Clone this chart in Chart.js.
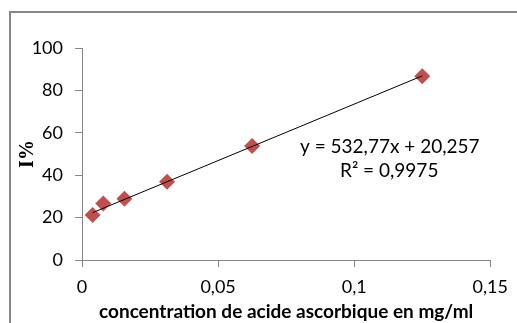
<!DOCTYPE html>
<html>
<head>
<meta charset="utf-8">
<script src="https://cdn.jsdelivr.net/npm/chart.js@4"></script>
<style>
  html, body { margin: 0; padding: 0; background: #fff; }
  canvas { display: block; }
</style>
</head>
<body>
<canvas id="courbeEtalon" width="517" height="323"></canvas>
<script>
// Concentrations (mg/ml) et pourcentage d'inhibition mesuré
const concentrations = [0.0039, 0.0078, 0.0156, 0.03125, 0.0625, 0.125];
const inhibition = [21.2, 26.7, 28.9, 36.9, 53.8, 86.7];

// Droite de régression affichée sur le graphique
const pente = 532.77;
const ordonnee = 20.257;
const r2 = 0.9975;

const xTickLabels = ["0", "0,05", "0,1", "0,15"];
const yTicks = [0, 20, 40, 60, 80, 100];

const fmt = (v, d) => v.toFixed(d).replace(".", ",");

(() => {
  const axisColor = "#868686";
  const xMin = Math.min(...concentrations);
  const xMax = Math.max(...concentrations);

  const config = {
    type: "scatter",
    data: {
      datasets: [
        {
          label: "tendance",
          type: "line",
          data: [
            { x: xMin, y: pente * xMin + ordonnee },
            { x: xMax, y: pente * xMax + ordonnee },
          ],
          borderColor: "#000",
          borderWidth: 1,
          pointRadius: 0,
          fill: false,
          order: 0,
        },
        {
          label: "I%",
          data: concentrations.map((c, i) => ({ x: c, y: inhibition[i] })),
          pointStyle: "rectRot",
          pointRadius: 8,
          backgroundColor: "#C0504D",
          borderColor: "#C0504D",
          borderWidth: 0,
          order: 1,
        },
      ],
    },
    options: {
      responsive: false,
      animation: false,
      layout: { padding: { top: 48, right: 22, bottom: 0, left: 0 } },
      plugins: {
        legend: { display: false },
        tooltip: { enabled: false },
      },
      scales: {
        x: {
          type: "linear",
          min: 0,
          max: 0.15,
          afterFit: (scale) => { scale.height = 63; },
          afterBuildTicks: (scale) => {
            scale.ticks = xTickLabels.map((_, i) => ({ value: i * 0.05 }));
          },
          ticks: {
            color: "#000",
            padding: 9,
            font: { family: "Lato", size: 18 },
            maxRotation: 0,
            callback: (v, i) => xTickLabels[i],
          },
          grid: { drawOnChartArea: false, tickLength: 7, color: axisColor },
          border: { color: axisColor, width: 1 },
          title: {
            display: true,
            text: "concentration de acide ascorbique en mg/ml",
            color: "#000",
            font: { family: "Lato", size: 19, weight: "bold" },
            padding: { top: 0, bottom: 0 },
          },
        },
        y: {
          type: "linear",
          min: 0,
          max: 100,
          afterFit: (scale) => { scale.width = 82; },
          afterBuildTicks: (scale) => {
            scale.ticks = yTicks.map((v) => ({ value: v }));
          },
          ticks: {
            color: "#000",
            padding: 12,
            font: { family: "Lato", size: 18 },
          },
          grid: { drawOnChartArea: false, tickLength: 7, color: axisColor },
          border: { color: axisColor, width: 1 },
          title: {
            display: true,
            text: "I%",
            color: "#000",
            font: { family: "Liberation Serif", size: 20, weight: "bold" },
            padding: { top: 16, bottom: 0 },
          },
        },
      },
    },
    plugins: [
      {
        id: "cadre",
        beforeDraw: (chart) => {
          const ctx = chart.ctx;
          ctx.save();
          ctx.strokeStyle = axisColor;
          ctx.lineWidth = 2;
          ctx.strokeRect(10, 12, chart.width + 20, chart.height + 20);
          ctx.restore();
        },
      },
      {
        id: "equation",
        afterDatasetsDraw: (chart) => {
          const ctx = chart.ctx;
          const area = chart.chartArea;
          ctx.save();
          ctx.fillStyle = "#000";
          ctx.font = "19px Lato";
          ctx.textBaseline = "alphabetic";
          ctx.textAlign = "left";
          ctx.fillText(
            "y = " + fmt(pente, 2) + "x + " + fmt(ordonnee, 3),
            area.left + 218, area.top + 105
          );
          ctx.fillText("R² = " + fmt(r2, 4), area.left + 258, area.top + 129);
          ctx.restore();
        },
      },
    ],
  };

  new Chart(document.getElementById("courbeEtalon"), config);
})();
</script>
</body>
</html>
